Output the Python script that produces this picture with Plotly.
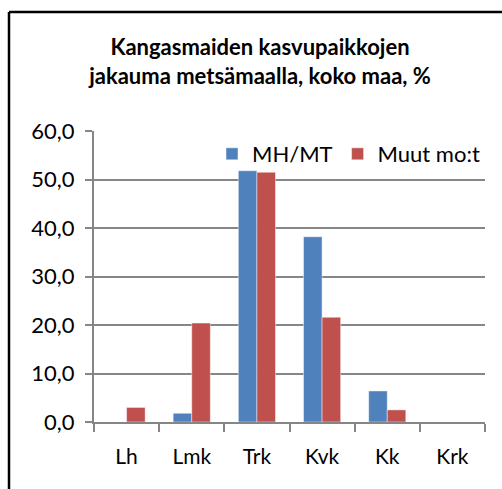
import plotly.graph_objects as go

categories = ["Lh", "Lmk", "Trk", "Kvk", "Kk", "Krk"]
mh_mt = [0.0, 1.8, 51.8, 38.2, 6.4, 0.0]
muut = [3.0, 20.4, 51.5, 21.6, 2.5, 0.0]
series_names = ["MH/MT", "Muut mo:t"]
title_text = "Kangasmaiden kasvupaikkojen<br>jakauma metsämaalla, koko maa, %"

W, H = 502, 489
ML, MR, MT, MB = 94, 17, 131, 67
pw, ph = W - ML - MR, H - MT - MB

def px_x(px):
    return (px - ML) / pw

def px_y(py):
    return (H - MB - py) / ph

FONT = "Lato"
GRID = "#868686"

fig = go.Figure()
fig.add_trace(go.Bar(x=categories, y=mh_mt, name=series_names[0],
                     marker=dict(color="#4F81BD", line=dict(color="rgba(255,255,255,0.45)", width=1))))
fig.add_trace(go.Bar(x=categories, y=muut, name=series_names[1],
                     marker=dict(color="#C0504D", line=dict(color="rgba(255,255,255,0.45)", width=1))))

fig.update_layout(
    width=W, height=H,
    margin=dict(l=ML, r=MR, t=MT, b=MB),
    paper_bgcolor="white", plot_bgcolor="white",
    separators=", ",
    barmode="group", bargap=0.43, bargroupgap=0,
    font=dict(family=FONT, size=22, color="#000000"),
    title=dict(text=title_text, x=260 / W, xref="container", xanchor="center",
               y=1 - 55 / H, yanchor="top", yref="container",
               font=dict(family=FONT, size=22, color="#000000", weight="bold")),
    showlegend=True,
    legend=dict(orientation="h", x=px_x(212), y=px_y(133), xanchor="left", yanchor="top",
                bgcolor="rgba(255,255,255,0)", font=dict(family=FONT, size=22),
                itemwidth=30, traceorder="normal"),
    xaxis=dict(type="category", showline=True, linecolor=GRID, linewidth=2,
               ticks="outside", tickson="boundaries", ticklen=8, tickcolor=GRID, tickwidth=2,
               tickfont=dict(family=FONT, size=21), showgrid=False, ticklabelstandoff=15),
    yaxis=dict(range=[0, 60], dtick=10, tickformat=".1f", showline=True, linecolor=GRID,
               linewidth=2, ticks="outside", ticklen=7, tickcolor=GRID, tickwidth=2,
               showgrid=True, gridcolor=GRID, gridwidth=2, zeroline=False,
               tickfont=dict(family=FONT, size=22), ticklabelstandoff=6),
    shapes=[
        dict(type="line", xref="paper", yref="paper", x0=px_x(9), x1=px_x(W + 5),
             y0=px_y(12), y1=px_y(12), line=dict(color="black", width=2.5)),
        dict(type="line", xref="paper", yref="paper", x0=px_x(9), x1=px_x(9),
             y0=px_y(12), y1=px_y(H + 5), line=dict(color="black", width=2.5)),
    ],
)

fig.write_html("out.html", config={"displayModeBar": False},
               post_script="document.body.style.margin='0';")
